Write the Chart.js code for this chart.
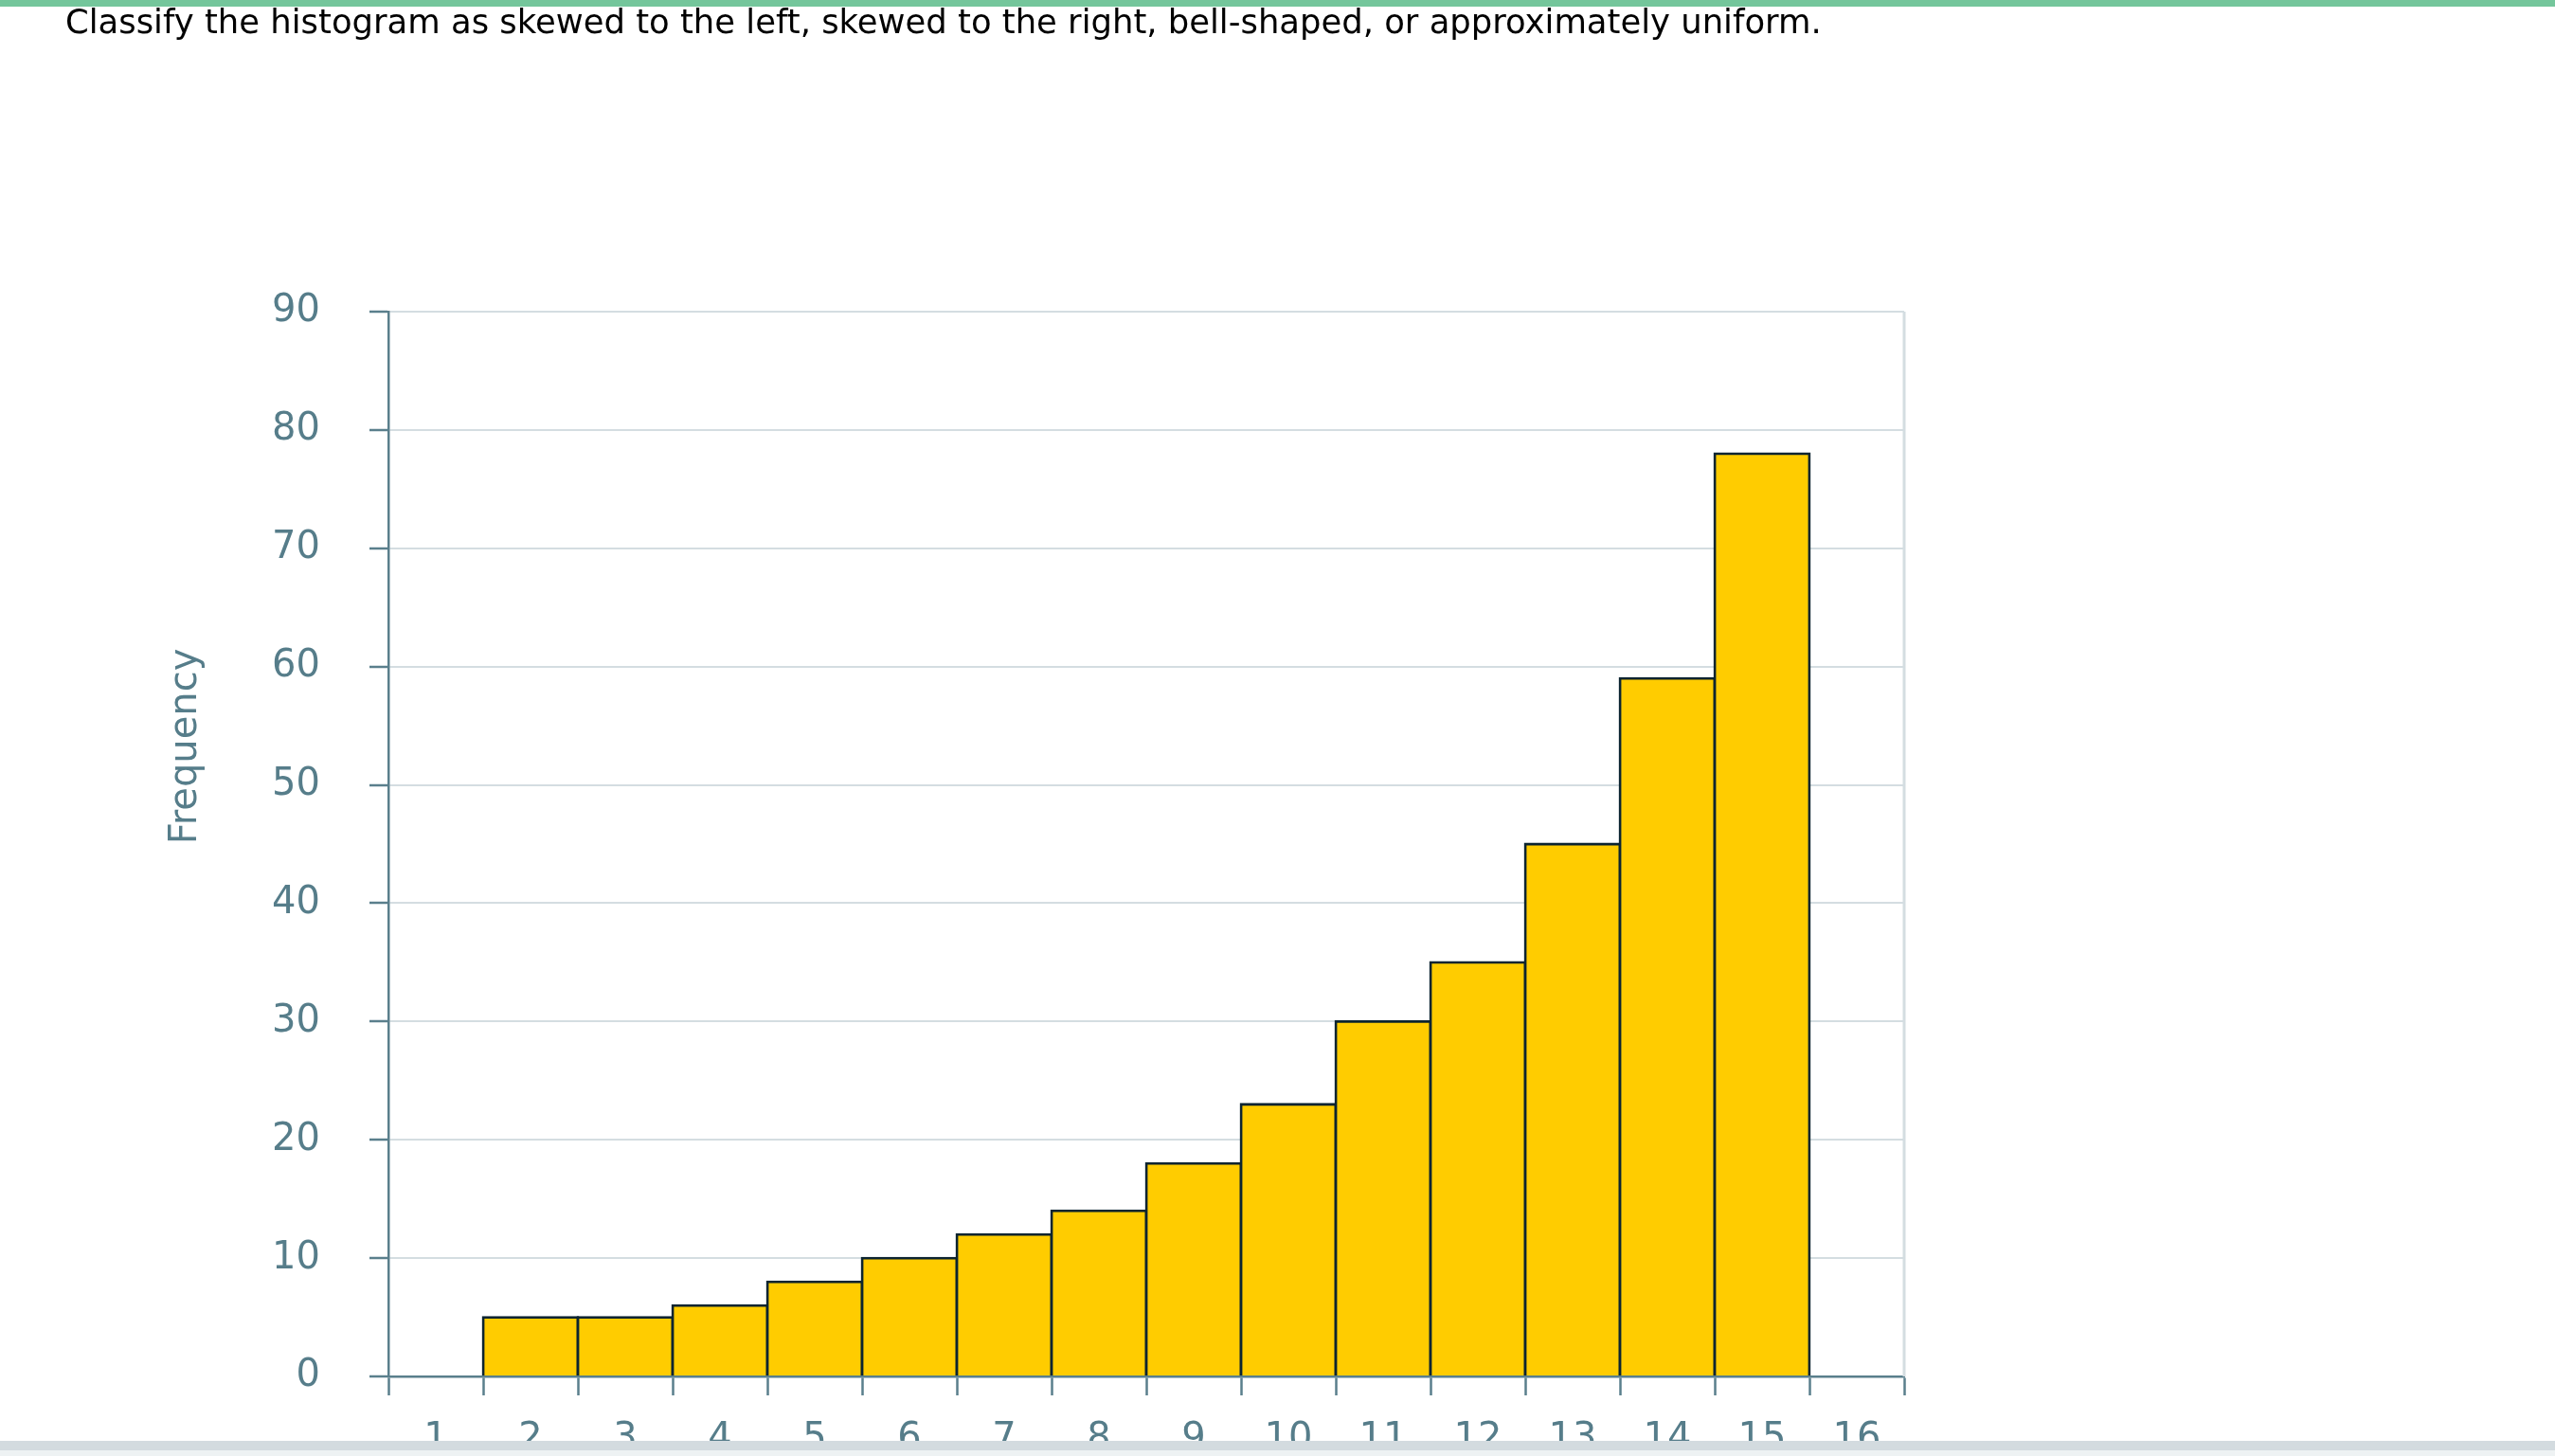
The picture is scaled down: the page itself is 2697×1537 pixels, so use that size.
<!DOCTYPE html>
<html lang="en">
<head>
<meta charset="utf-8">
<title>Histogram</title>
<script src="https://cdn.jsdelivr.net/npm/chart.js@4.4.1/dist/chart.umd.min.js"></script>
<style>
  html, body { margin: 0; padding: 0; background: #fff; overflow: hidden; }
  body { width: 2697px; height: 1537px; position: relative; font-family: "DejaVu Sans", Verdana, sans-serif; }
  #top-bar { position: absolute; left: 0; top: 0; width: 100%; height: 7px; background: #74c69b; }
  #question { position: absolute; left: 69px; top: 5px; font-size: 35.4px; line-height: 35.4px; color: #000; white-space: nowrap; z-index: 2; }
  #chart-wrap { position: absolute; left: 0; top: 0; width: 2697px; height: 1537px; }
  #bottom-bar { position: absolute; left: 0; top: 1521px; width: 100%; height: 10px; background: #d3dbdf; z-index: 3; }
  #bottom-strip { position: absolute; left: 0; top: 1531px; width: 100%; height: 6px; background: #eef2f3; z-index: 3; }
</style>
</head>
<body>
<div id="top-bar"></div>
<div id="question">Classify the histogram as skewed to the left, skewed to the right, bell-shaped, or approximately uniform.</div>
<div id="chart-wrap"><canvas id="histogram"></canvas></div>
<div id="bottom-bar"></div>
<div id="bottom-strip"></div>
<script>
// Histogramme - fréquences par classe
const categories = ["1", "2", "3", "4", "5", "6", "7", "8", "9", "10", "11", "12", "13", "14", "15", "16"];
const frequencies = [null, 5, 5, 6, 8, 10, 12, 14, 18, 23, 30, 35, 45, 59, 78, null];
const yTicks = [0, 10, 20, 30, 40, 50, 60, 70, 80, 90];

(function () {
  "use strict";

  const AXIS = "#5a7f8c";
  const LABEL = "#567d8a";
  const GRID = "#d4dde1";
  const FONT = { family: "'DejaVu Sans', Verdana, sans-serif", size: 40 };

  // cadre de droite + titre vertical de l'axe
  const framePlugin = {
    id: "frame",
    afterDraw(chart) {
      const { ctx, chartArea } = chart;
      ctx.save();
      ctx.strokeStyle = GRID;
      ctx.lineWidth = 3;
      ctx.beginPath();
      ctx.moveTo(chartArea.right, chartArea.top);
      ctx.lineTo(chartArea.right, chartArea.bottom);
      ctx.stroke();

      ctx.translate(197, 788);
      ctx.rotate(-Math.PI / 2);
      ctx.font = `${FONT.size}px ${FONT.family}`;
      ctx.fillStyle = LABEL;
      ctx.textAlign = "center";
      ctx.textBaseline = "middle";
      ctx.fillText("Frequency", 0, 0);
      ctx.restore();
    },
  };

  const canvas = document.getElementById("histogram");
  new Chart(canvas.getContext("2d"), {
    type: "bar",
    data: {
      labels: categories,
      datasets: [
        {
          label: "Frequency",
          data: frequencies,
          backgroundColor: "#ffcc00",
          borderColor: "#0c2430",
          borderWidth: 2.8,
          inflateAmount: 1.4,
          barPercentage: 1,
          categoryPercentage: 1,
        },
      ],
    },
    options: {
      responsive: true,
      maintainAspectRatio: false,
      animation: false,
      events: [],
      layout: { padding: { left: 0, top: 329, right: 687, bottom: 0 } },
      plugins: {
        legend: { display: false },
        tooltip: { enabled: false },
        title: { display: false },
      },
      scales: {
        x: {
          type: "category",
          offset: true,
          afterFit(scale) { scale.height = 84; },
          grid: {
            offset: true,
            drawOnChartArea: false,
            tickLength: 20,
            tickColor: AXIS,
            tickWidth: 2.5,
          },
          border: { color: AXIS, width: 2.5 },
          ticks: { color: LABEL, font: FONT, padding: 23, maxRotation: 0, autoSkip: false },
        },
        y: {
          min: yTicks[0],
          max: yTicks[yTicks.length - 1],
          afterFit(scale) { scale.width = 410; },
          afterBuildTicks(scale) { scale.ticks = yTicks.map((v) => ({ value: v })); },
          grid: {
            color: GRID,
            lineWidth: 2,
            tickLength: 20,
            tickColor: AXIS,
            tickWidth: 2.5,
          },
          border: { color: AXIS, width: 2.5 },
          ticks: { color: LABEL, font: FONT, padding: 52 },
        },
      },
    },
    plugins: [framePlugin],
  });
})();
</script>
</body>
</html>
